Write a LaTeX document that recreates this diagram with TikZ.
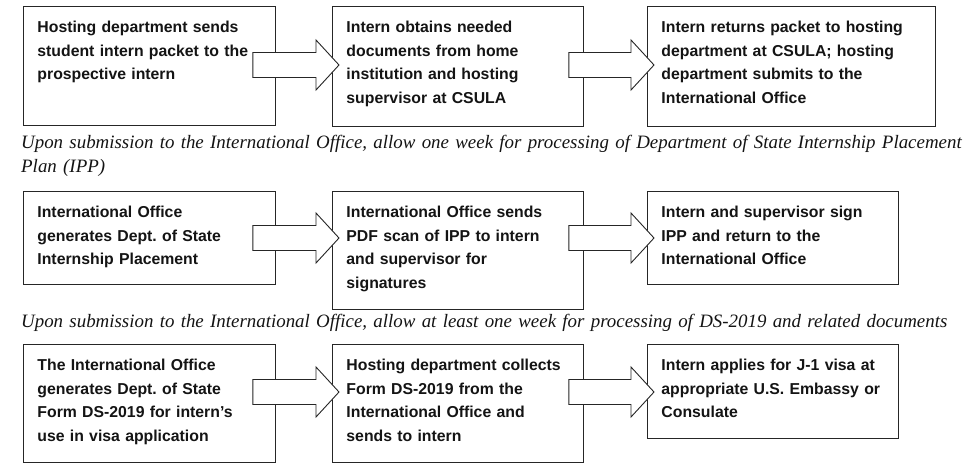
\documentclass[tikz,border=0pt]{standalone}
\usepackage{fontspec}
\newfontfamily\boxfont{Liberation Sans}
\newfontfamily\notefont{Liberation Serif}
\usetikzlibrary{calc}

\begin{document}
\begin{tikzpicture}[x=1pt, y=-1pt,
    stepbox/.style 2 args={draw=black!85, line width=0.9pt, fill=white, anchor=north west, align=left, inner xsep=14pt, inner ysep=0pt, text width=#1, text height=26.5pt, text depth=#2, font=\boxfont\bfseries\fontsize{15.8}{23.5}\selectfont\frenchspacing, text=black!92},
    note/.style={anchor=base west, inner sep=0pt, text width=1000pt, align=left, font=\notefont\itshape\fontsize{18.9}{24}\selectfont, text=black!92},
    fatarrow/.style={draw=black!85, line width=0.9pt, fill=white, line join=miter}
]
    \path[use as bounding box, fill=white] (0,0) rectangle (980,475);

    % first row
    \node[stepbox={224pt}{92.5pt}] (a1) at (23,6) {Hosting department sends\\student intern packet to the\\prospective intern};
    \node[stepbox={223pt}{93.5pt}] (a2) at (332,6) {Intern obtains needed\\documents from home\\institution and hosting\\supervisor at CSULA};
    \node[stepbox={260pt}{93.5pt}] (a3) at (647,6) {Intern returns packet to hosting\\department at CSULA; hosting\\department submits to the\\International Office};

    \node[note] (n1) at (21,148) {Upon submission to the International Office, allow one week for processing of Department of State Internship Placement\\Plan (IPP)};

    % second row
    \node[stepbox={224pt}{66.5pt}] (b1) at (23,191) {International Office\\generates Dept. of State\\Internship Placement};
    \node[stepbox={223pt}{91.5pt}] (b2) at (332,191) {International Office sends\\PDF scan of IPP to intern\\and supervisor for\\signatures};
    \node[stepbox={223pt}{66.5pt}] (b3) at (647,191) {Intern and supervisor sign\\IPP and return to the\\International Office};

    \node[note] (n2) at (21,327) {Upon submission to the International Office, allow at least one week for processing of DS-2019 and related documents};

    % third row
    \node[stepbox={224pt}{91.5pt}] (c1) at (23,344) {The International Office\\generates Dept. of State\\Form DS-2019 for intern’s\\use in visa application};
    \node[stepbox={223pt}{91.5pt}] (c2) at (332,344) {Hosting department collects\\Form DS-2019 from the\\International Office and\\sends to intern};
    \node[stepbox={223pt}{67.5pt}] (c3) at (647,344) {Intern applies for J-1 visa at\\appropriate U.S. Embassy or\\Consulate};

    % hollow block arrows
    \foreach \from/\to/\dy/\s in {a1/a2/59/23, a2/a3/59/15, b1/b2/47/23, b2/b3/47/15, c1/c2/48/23, c2/c3/48/15}
        \draw[fatarrow] ($(\from.north east)+(-\s,\dy-12.5)$) -- ($(\to.north west)+(-16,\dy-12.5)$)
            -- ($(\to.north west)+(-16,\dy-25)$) -- ($(\to.north west)+(7,\dy)$)
            -- ($(\to.north west)+(-16,\dy+25)$) -- ($(\to.north west)+(-16,\dy+12.5)$)
            -- ($(\from.north east)+(-\s,\dy+12.5)$) -- cycle;
\end{tikzpicture}
\end{document}
